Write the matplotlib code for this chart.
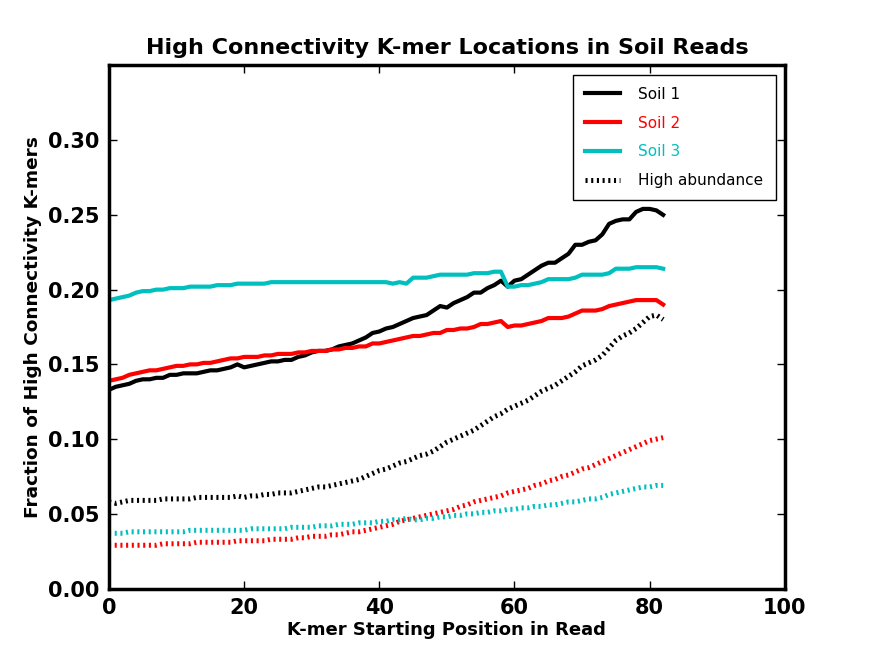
import matplotlib
matplotlib.use("Agg")
import matplotlib.pyplot as plt
import numpy as np

plt.rcParams['lines.scale_dashes'] = False

positions = np.arange(83)

soil1 = [0.133, 0.135, 0.136, 0.137, 0.139, 0.140, 0.140, 0.141, 0.141, 0.143,
         0.143, 0.144, 0.144, 0.144, 0.145, 0.146, 0.146, 0.147, 0.148, 0.150,
         0.148, 0.149, 0.150, 0.151, 0.152, 0.152, 0.153, 0.153, 0.155, 0.156,
         0.158, 0.159, 0.159, 0.160, 0.162, 0.163, 0.164, 0.166, 0.168, 0.171,
         0.172, 0.174, 0.175, 0.177, 0.179, 0.181, 0.182, 0.183, 0.186, 0.189,
         0.188, 0.191, 0.193, 0.195, 0.198, 0.198, 0.201, 0.203, 0.206, 0.202,
         0.206, 0.207, 0.210, 0.213, 0.216, 0.218, 0.218, 0.221, 0.224, 0.230,
         0.230, 0.232, 0.233, 0.237, 0.244, 0.246, 0.247, 0.247, 0.252, 0.254,
         0.254, 0.253, 0.250]

soil2 = [0.139, 0.140, 0.141, 0.143, 0.144, 0.145, 0.146, 0.146, 0.147, 0.148,
         0.149, 0.149, 0.150, 0.150, 0.151, 0.151, 0.152, 0.153, 0.154, 0.154,
         0.155, 0.155, 0.155, 0.156, 0.156, 0.157, 0.157, 0.157, 0.158, 0.158,
         0.159, 0.159, 0.159, 0.160, 0.160, 0.161, 0.161, 0.162, 0.162, 0.164,
         0.164, 0.165, 0.166, 0.167, 0.168, 0.169, 0.169, 0.170, 0.171, 0.171,
         0.173, 0.173, 0.174, 0.174, 0.175, 0.177, 0.177, 0.178, 0.179, 0.175,
         0.176, 0.176, 0.177, 0.178, 0.179, 0.181, 0.181, 0.181, 0.182, 0.184,
         0.186, 0.186, 0.186, 0.187, 0.189, 0.190, 0.191, 0.192, 0.193, 0.193,
         0.193, 0.193, 0.190]

soil3 = [0.193, 0.194, 0.195, 0.196, 0.198, 0.199, 0.199, 0.200, 0.200, 0.201,
         0.201, 0.201, 0.202, 0.202, 0.202, 0.202, 0.203, 0.203, 0.203, 0.204,
         0.204, 0.204, 0.204, 0.204, 0.205, 0.205, 0.205, 0.205, 0.205, 0.205,
         0.205, 0.205, 0.205, 0.205, 0.205, 0.205, 0.205, 0.205, 0.205, 0.205,
         0.205, 0.205, 0.204, 0.205, 0.204, 0.208, 0.208, 0.208, 0.209, 0.210,
         0.210, 0.210, 0.210, 0.210, 0.211, 0.211, 0.211, 0.212, 0.212, 0.202,
         0.202, 0.203, 0.203, 0.204, 0.205, 0.207, 0.207, 0.207, 0.207, 0.208,
         0.210, 0.210, 0.210, 0.210, 0.211, 0.214, 0.214, 0.214, 0.215, 0.215,
         0.215, 0.215, 0.214]

high1 = [0.058, 0.057, 0.058, 0.059, 0.059, 0.059, 0.059, 0.059, 0.060, 0.060,
         0.060, 0.060, 0.060, 0.061, 0.061, 0.061, 0.061, 0.061, 0.061, 0.062,
         0.061, 0.062, 0.062, 0.063, 0.063, 0.064, 0.064, 0.064, 0.065, 0.066,
         0.067, 0.068, 0.068, 0.069, 0.070, 0.071, 0.072, 0.073, 0.075, 0.077,
         0.079, 0.080, 0.082, 0.084, 0.085, 0.087, 0.089, 0.090, 0.092, 0.095,
         0.098, 0.100, 0.102, 0.104, 0.106, 0.109, 0.112, 0.115, 0.117, 0.120,
         0.122, 0.124, 0.126, 0.129, 0.132, 0.134, 0.136, 0.139, 0.142, 0.145,
         0.149, 0.151, 0.153, 0.156, 0.161, 0.166, 0.169, 0.171, 0.174, 0.178,
         0.182, 0.183, 0.180]

high2 = [0.029, 0.029, 0.029, 0.029, 0.029, 0.029, 0.029, 0.029, 0.030, 0.030,
         0.030, 0.030, 0.030, 0.031, 0.031, 0.031, 0.031, 0.031, 0.031, 0.032,
         0.032, 0.032, 0.032, 0.032, 0.033, 0.033, 0.033, 0.033, 0.034, 0.034,
         0.035, 0.035, 0.035, 0.036, 0.036, 0.037, 0.038, 0.038, 0.039, 0.040,
         0.041, 0.042, 0.043, 0.045, 0.046, 0.047, 0.048, 0.049, 0.050, 0.051,
         0.052, 0.053, 0.055, 0.056, 0.058, 0.059, 0.060, 0.061, 0.062, 0.064,
         0.065, 0.066, 0.067, 0.069, 0.070, 0.072, 0.073, 0.075, 0.076, 0.078,
         0.080, 0.081, 0.083, 0.085, 0.087, 0.089, 0.091, 0.093, 0.095, 0.097,
         0.099, 0.100, 0.101]

high3 = [0.037, 0.037, 0.037, 0.038, 0.038, 0.038, 0.038, 0.038, 0.038, 0.038,
         0.038, 0.038, 0.039, 0.039, 0.039, 0.039, 0.039, 0.039, 0.039, 0.039,
         0.039, 0.040, 0.040, 0.040, 0.040, 0.040, 0.040, 0.041, 0.041, 0.041,
         0.041, 0.042, 0.042, 0.042, 0.043, 0.043, 0.043, 0.044, 0.044, 0.044,
         0.045, 0.045, 0.046, 0.046, 0.047, 0.046, 0.046, 0.047, 0.047, 0.048,
         0.048, 0.049, 0.049, 0.050, 0.050, 0.051, 0.051, 0.052, 0.052, 0.053,
         0.053, 0.054, 0.054, 0.055, 0.055, 0.056, 0.056, 0.057, 0.058, 0.058,
         0.059, 0.060, 0.060, 0.061, 0.063, 0.064, 0.065, 0.066, 0.067, 0.068,
         0.068, 0.069, 0.069]

fig = plt.figure(figsize=(8.72, 6.54), dpi=100)
ax = fig.add_axes([0.125, 0.1, 0.775, 0.8])

dots = (0, (1.5, 2.6))
ax.plot(positions, soil1, color='k', lw=3, label='Soil 1')
ax.plot(positions, soil2, color='r', lw=3, label='Soil 2')
ax.plot(positions, soil3, color='c', lw=3, label='Soil 3')
ax.plot(positions, high1, color='k', lw=3.6, ls=dots, label='High abundance')
ax.plot(positions, high2, color='r', lw=3.6, ls=dots)
ax.plot(positions, high3, color='c', lw=3.6, ls=dots)

ax.set_xlim(0, 100)
ax.set_ylim(0, 0.35)
ax.set_xticks([0, 20, 40, 60, 80, 100])
ax.set_yticks([0.0, 0.05, 0.10, 0.15, 0.20, 0.25, 0.30])
ax.set_yticklabels(['0.00', '0.05', '0.10', '0.15', '0.20', '0.25', '0.30'])
ax.tick_params(direction='in', top=True, right=True, length=6, width=1,
               labelsize=15, pad=7)
for lab in ax.get_xticklabels() + ax.get_yticklabels():
    lab.set_fontweight('bold')
for sp in ax.spines.values():
    sp.set_linewidth(2.5)

ax.set_xlabel('K-mer Starting Position in Read', fontsize=13, fontweight='bold', labelpad=2)
ax.set_ylabel('Fraction of High Connectivity K-mers', fontsize=13.3, fontweight='bold')
ax.set_title('High Connectivity K-mer Locations in Soil Reads', fontsize=16, fontweight='bold', pad=8)

leg = ax.legend(loc='upper right', fontsize=11, fancybox=False, framealpha=1,
                edgecolor='k', borderpad=0.8, labelspacing=0.9, handlelength=2.3,
                handletextpad=1.2, borderaxespad=0.6)
leg.get_frame().set_linewidth(1)
for txt, col in zip(leg.get_texts(), ['k', 'r', 'c', 'k']):
    txt.set_color(col)

fig.savefig('out.png', dpi=100, facecolor='white')
